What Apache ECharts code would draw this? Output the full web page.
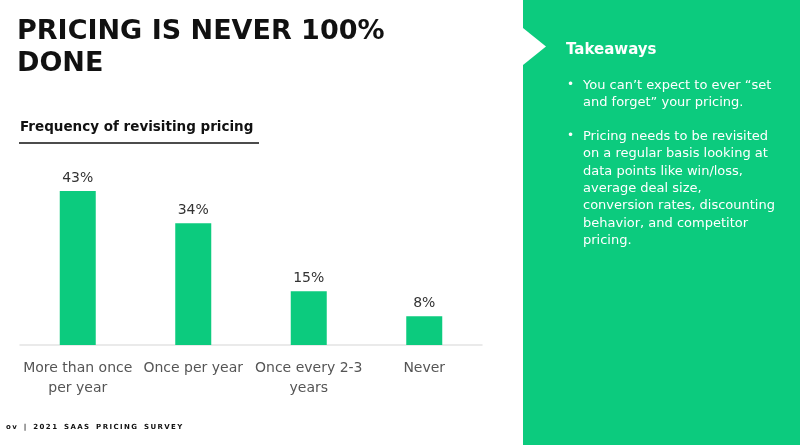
<!DOCTYPE html>
<html>
<head>
<meta charset="utf-8">
<script src="https://cdn.jsdelivr.net/npm/echarts@6/dist/echarts.min.js"></script>
<style>
html,body{margin:0;padding:0;background:#fff;}
#c{width:800px;height:445px;}
</style>
</head>
<body>
<div id="c"></div>
<script>
const categories = ['More than once\nper year', 'Once per year', 'Once every 2-3\nyears', 'Never'];
const values = [43, 34, 15, 8];
const titleLines = ['PRICING IS NEVER 100%', 'DONE'];
const subtitle = 'Frequency of revisiting pricing';
const takeawaysTitle = 'Takeaways';
const bullets = [
  'You can\u2019t expect to ever \u201cset\nand forget\u201d your pricing.',
  'Pricing needs to be revisited\non a regular basis looking at\ndata points like win/loss,\naverage deal size,\nconversion rates, discounting\nbehavior, and competitor\npricing.'
];
const footerWords = ['ov', '|', '2021', 'SAAS', 'PRICING', 'SURVEY'];

const GREEN = '#0ccb7e';
const FONT = '"DejaVu Sans", sans-serif';
const footerText = footerWords.map(w => w.split('').join('\u2009')).join('\u2002\u2002');

const chart = echarts.init(document.getElementById('c'));
chart.setOption({
  animation: false,
  backgroundColor: '#fff',
  grid: { left: 20, right: 318, top: 166, bottom: 100, containLabel: false },
  xAxis: {
    type: 'category',
    data: categories,
    axisLine: { lineStyle: { color: '#e3e3e3', width: 1.5 } },
    axisTick: { show: false },
    axisLabel: {
      color: '#555', fontSize: 14, fontFamily: FONT, lineHeight: 20,
      margin: 13, interval: 0
    }
  },
  yAxis: {
    type: 'value', min: 0, max: 50,
    show: false,
    splitLine: { show: false }
  },
  series: [{
    type: 'bar',
    data: values,
    barWidth: 36,
    itemStyle: { color: GREEN },
    label: {
      show: true, position: 'top', distance: 6,
      formatter: '{c}%', color: '#333', fontSize: 14, fontFamily: FONT
    }
  }],
  graphic: [
    { type: 'rect', shape: { x: 523, y: 0, width: 277, height: 445 }, style: { fill: GREEN }, silent: true },
    { type: 'polygon', shape: { points: [[523, 28], [546, 46.5], [523, 65]] }, style: { fill: '#fff' }, silent: true },
    { type: 'text', left: 17, top: 16, style: {
        text: titleLines.join('\n'), fill: '#111', font: 'bold 27px "DejaVu Sans", sans-serif', lineHeight: 32 } },
    { type: 'text', left: 20, top: 120, style: {
        text: subtitle, fill: '#111', font: 'bold 13.5px "DejaVu Sans", sans-serif' } },
    { type: 'line', shape: { x1: 19, y1: 143, x2: 259, y2: 143 }, style: { stroke: '#111', lineWidth: 1.5 } },
    { type: 'text', left: 566, top: 43, style: {
        text: takeawaysTitle, fill: '#fff', font: 'bold 15px "DejaVu Sans", sans-serif' } },
    { type: 'text', left: 567, top: 79, style: { text: '\u2022', fill: '#fff', font: '12px "DejaVu Sans", sans-serif' } },
    { type: 'text', left: 583, top: 77, style: {
        text: bullets[0], fill: '#fff', font: '13px "DejaVu Sans", sans-serif', lineHeight: 17.3 } },
    { type: 'text', left: 567, top: 130, style: { text: '\u2022', fill: '#fff', font: '12px "DejaVu Sans", sans-serif' } },
    { type: 'text', left: 583, top: 128, style: {
        text: bullets[1], fill: '#fff', font: '13px "DejaVu Sans", sans-serif', lineHeight: 17.3 } },
    { type: 'text', left: 6, top: 424, style: {
        text: footerText, fill: '#111', font: 'bold 7px "DejaVu Sans", sans-serif' } }
  ]
});
</script>
</body>
</html>
